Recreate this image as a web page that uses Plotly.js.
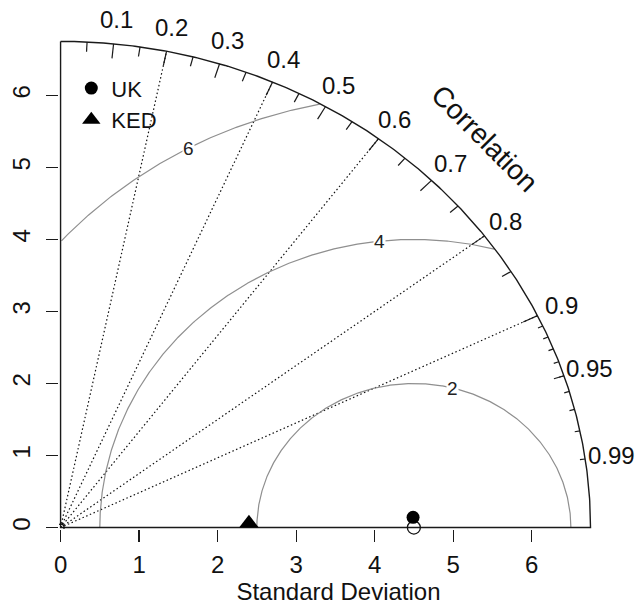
<!DOCTYPE html>
<html>
<head>
<meta charset="utf-8">
<script src="https://cdn.plot.ly/plotly-3.0.1.min.js"></script>
<style>html,body{margin:0;padding:0;background:#fff;}#chart{width:636px;height:607px;}</style>
</head>
<body>
<div id="chart"></div>
<script>
// ---- data ----
const maxSD = 6.75;
const refSD = 4.5;
const modelNames = ['UK', 'KED'];
const modelSD = [4.492, 2.40];
const modelCor = [0.9995, 0.9997];
const modelSymbols = ['circle', 'triangle-up'];
const modelSizes = [13, 17];
const sdTicks = [0, 1, 2, 3, 4, 5, 6];
const corrLabels = [0.1, 0.2, 0.3, 0.4, 0.5, 0.6, 0.7, 0.8, 0.9, 0.95, 0.99];
const corrBigTicks = [0.1, 0.2, 0.3, 0.4, 0.5, 0.6, 0.7, 0.8, 0.9];
const corrMedTicks = [0.05, 0.15, 0.25, 0.35, 0.45, 0.55, 0.65, 0.75, 0.85, 0.95];
const corrSmallTicks = [0.91, 0.92, 0.93, 0.94, 0.95, 0.96, 0.97, 0.98, 0.99];
const radialCorr = [0.2, 0.4, 0.6, 0.8, 0.9];
const rmsLevels = [2, 4, 6];
const rmsLabelIndex = [45, 57, 70];

const FONT = '"Liberation Sans", Arial, Helvetica, sans-serif';
const traces = [];

// radial dotted lines
{
  const x = [], y = [];
  radialCorr.forEach(c => { const a = Math.acos(c); x.push(0, Math.cos(a) * maxSD, null); y.push(0, Math.sin(a) * maxSD, null); });
  traces.push({x, y, mode: 'lines', line: {color: '#111', width: 1.2, dash: '1.5px,2.5px'}, hoverinfo: 'skip', showlegend: false});
}

// RMS contours
const rmsAnn = [];
rmsLevels.forEach((g, gi) => {
  const x = [], y = [];
  for (let t = 0; t <= Math.PI + 1e-9; t += 0.004) {
    const xx = refSD + g * Math.cos(t), yy = g * Math.sin(t);
    if (xx >= 0 && xx * xx + yy * yy <= maxSD * maxSD) { x.push(xx); y.push(yy); }
    else if (x.length && x[x.length - 1] !== null) { x.push(null); y.push(null); }
  }
  traces.push({x, y, mode: 'lines', line: {color: '#8f8f8f', width: 1.2}, hoverinfo: 'skip', showlegend: false});
  const t = (rmsLabelIndex[gi] - 1) * 0.03;
  rmsAnn.push({x: refSD + g * Math.cos(t), y: g * Math.sin(t), text: String(g), showarrow: false,
    font: {family: FONT, size: 19, color: '#222'}, bgcolor: '#fff', borderpad: 0, xref: 'x', yref: 'y'});
});

// axes frame + outer arc
{
  const x = [0, 0, maxSD], y = [maxSD, 0, 0];
  for (let t = 0; t <= Math.PI / 2 + 1e-9; t += 0.005) { x.push(maxSD * Math.cos(t)); y.push(maxSD * Math.sin(t)); }
  x.push(0); y.push(maxSD);
  traces.push({x, y, mode: 'lines', line: {color: '#1a1a1a', width: 1.4}, hoverinfo: 'skip', showlegend: false});
}

// correlation ticks
{
  const x = [], y = [];
  const add = (arr, f) => arr.forEach(c => { const a = Math.acos(c); x.push(Math.cos(a) * maxSD, Math.cos(a) * maxSD * f, null); y.push(Math.sin(a) * maxSD, Math.sin(a) * maxSD * f, null); });
  add(corrBigTicks, 0.97); add(corrMedTicks, 0.98); add(corrSmallTicks, 0.99);
  traces.push({x, y, mode: 'lines', line: {color: '#1a1a1a', width: 1.2}, hoverinfo: 'skip', showlegend: false});
}

// origin small mark and reference point
traces.push({x: [0], y: [0], mode: 'markers', marker: {symbol: 'circle-open', size: 7, color: '#111', line: {width: 1.2}}, hoverinfo: 'skip', showlegend: false, cliponaxis: true});
traces.push({x: [refSD], y: [0], mode: 'markers', marker: {symbol: 'circle-open', size: 13, color: '#111', line: {width: 1.3}}, hoverinfo: 'skip', showlegend: false, cliponaxis: false});

// models
modelNames.forEach((n, i) => {
  const a = Math.acos(modelCor[i]);
  traces.push({x: [modelSD[i] * Math.cos(a)], y: [modelSD[i] * Math.sin(a)], name: n, mode: 'markers',
    marker: {symbol: modelSymbols[i], size: modelSizes[i], color: '#000'}, cliponaxis: false});
});

// correlation labels
const ann = rmsAnn.slice();
corrLabels.forEach(c => {
  const a = Math.acos(c);
  ann.push({x: Math.cos(a) * 1.05 * maxSD, y: Math.sin(a) * 1.05 * maxSD, text: String(c), showarrow: false,
    font: {family: FONT, size: 24, color: '#111'}, xref: 'x', yref: 'y'});
});
ann.push({x: maxSD * 0.8, y: maxSD * 0.8, text: 'Correlation', textangle: 45, showarrow: false,
  font: {family: FONT, size: 28, color: '#111'}, xref: 'x', yref: 'y'});

const layout = {
  width: 636, height: 607,
  margin: {l: 59, r: 18, t: 9, b: 78},
  paper_bgcolor: '#fff', plot_bgcolor: '#fff',
  font: {family: FONT, color: '#111'},
  xaxis: {range: [-0.02, 7.1], tickvals: sdTicks, ticktext: sdTicks.map(String), ticks: 'outside', ticklen: 12, tickwidth: 1.2, tickcolor: '#1a1a1a',
    showgrid: false, zeroline: false, showline: false, tickfont: {family: FONT, size: 24, color: '#111'}, ticklabelstandoff: 2,
    title: {text: 'Standard Deviation', font: {family: FONT, size: 24, color: '#111'}, standoff: 4}},
  yaxis: {range: [-0.02, 7.2], tickvals: sdTicks, ticktext: sdTicks.map(String), ticks: 'outside', ticklen: 12, tickwidth: 1.2, tickcolor: '#1a1a1a',
    showgrid: false, zeroline: false, showline: false, tickangle: -90, tickfont: {family: FONT, size: 24, color: '#111'}, ticklabelstandoff: 6},
  showlegend: true,
  legend: {x: 0.022, y: 0.888, xanchor: 'left', yanchor: 'top', bgcolor: 'rgba(0,0,0,0)', font: {family: FONT, size: 22, color: '#111'}},
  annotations: ann
};

Plotly.newPlot('chart', traces, layout, {displayModeBar: false, staticPlot: true});
</script>
</body>
</html>
